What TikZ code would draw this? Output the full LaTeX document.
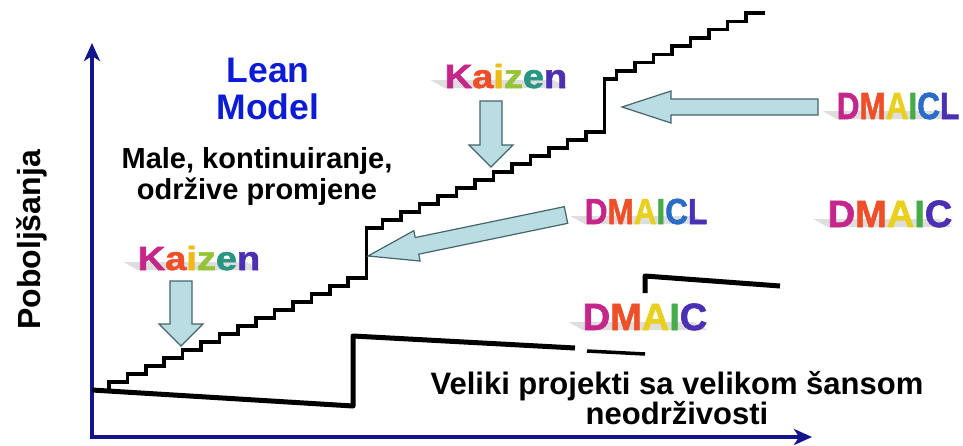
\documentclass[tikz,border=0pt]{standalone}
\usepackage{fontspec}
\setmainfont{Liberation Sans}
\newfontfamily\artfont{Liberation Sans}[BoldFeatures={FakeBold=1.6}]
\usetikzlibrary{arrows.meta,calc,backgrounds}
\definecolor{axisblue}{RGB}{20,20,140}
\definecolor{leanblue}{RGB}{12,28,214}
\definecolor{arrowfill}{RGB}{185,221,226}
\definecolor{arrowline}{RGB}{70,100,108}
\definecolor{rbA}{RGB}{196,38,138}
\definecolor{rbB}{RGB}{238,78,40}
\definecolor{rbC}{RGB}{240,186,20}
\definecolor{rbD}{RGB}{150,196,56}
\definecolor{rbE}{RGB}{40,150,130}
\definecolor{rbF}{RGB}{76,48,180}
\definecolor{rbG}{RGB}{234,208,30}
\definecolor{rbH}{RGB}{70,172,72}
\definecolor{rbI}{RGB}{42,108,200}
\newcommand\kaizen{{\color{rbA}K}{\color{rbB}a}{\color{rbC}i}{\color{rbD}z}{\color{rbE}e}{\color{rbF}n}}
\newcommand\dmaicl{{\color{rbA}D}{\color{rbB}M}{\color{rbG}A}{\color{rbH}I}{\color{rbI}C}{\color{rbF}L}}
\newcommand\dmaic{{\color{rbA}D}{\color{rbB}M}{\color{rbG}A}{\color{rbH}I}{\color{rbF}C}}
% block arrow: shaft half width, head half width, head length, from, to
\newcommand\fatarrow[5]{%
  \coordinate (fa-h) at ($(#5)!#3pt!(#4)$);
  \draw[fatarrow] ($(#4)!#1pt!90:(#5)$) -- ($(fa-h)!#1pt!90:(#5)$) -- ($(fa-h)!#2pt!90:(#5)$) -- (#5)
    -- ($(fa-h)!#2pt!-90:(#5)$) -- ($(fa-h)!#1pt!-90:(#5)$) -- ($(#4)!#1pt!-90:(#5)$) -- cycle;}
% grey ground shadow behind a word
\newcommand\artshadow[1]{%
  \fill[artshadow] (#1.base west) -- (#1.base east) -- ++(-14,-8)
    -- ($(#1.base west)+(-14,-8)$) -- cycle;}
\tikzset{
  axis/.style={axisblue,line width=4.5pt,line join=miter,{Stealth[length=18pt,width=16pt,inset=5pt]}-{Stealth[length=18pt,width=16pt,inset=5pt]}},
  stair/.style={line width=3.5pt,line join=miter},
  bigline/.style={line width=5pt,line join=round},
  fatarrow/.style={fill=arrowfill,draw=arrowline,line width=1.2pt,line join=miter},
  artshadow/.style={fill=black!13},
  lean/.style={font=\fontsize{35.5}{37}\selectfont\bfseries,text=leanblue,align=center,inner sep=0pt},
  note/.style={font=\fontsize{29}{31}\selectfont\bfseries,align=center,inner sep=0pt},
  wordart/.style={font=\artfont\fontsize{38}{40}\selectfont\bfseries,inner sep=0pt,anchor=base},
  smallart/.style={wordart,font=\artfont\fontsize{31.5}{33}\selectfont\bfseries},
}
\begin{document}
\begin{tikzpicture}[x=1pt,y=-1pt]
\useasboundingbox (0,0) rectangle (963,445);
% axes
\coordinate (o) at (92,437);
\coordinate (ytip) at (92,43);
\coordinate (xtip) at (812,437);
\draw[axis] (ytip) -- (o) -- (xtip);
\node[font=\fontsize{32}{34}\selectfont\bfseries,rotate=90,inner sep=0pt] (ylab) at (32,240) {Poboljšanja};
% large projects
\draw[bigline] (92,390) -- (353,406) -- (353,336) -- (575,348);
\draw[stair] (587,351) -- (645,354);
\draw[bigline] (645,293) -- (645,276) -- (780,286);
% small steps
\draw[stair] (109,390)
  \foreach \s in {1,...,14}{ -- ++(0,-8) -- ++(18.4,0) }
  -- ++(0,-50) -- ++(16,0)
  \foreach \s in {1,...,12}{ -- ++(0,-8) -- ++(18.5,0) }
  -- ++(0,-53) -- ++(12,0)
  \foreach \s in {1,...,8}{ -- ++(0,-8.25) -- ++(18.5,0) };
% texts
\node[lean] (lean) at (268,89) {Lean\\Model};
\node[note] (male) at (257,176) {Male, kontinuiranje,\\održive promjene};
\node[note,font=\fontsize{31}{29}\selectfont\bfseries] (veliki) at (677,398) {Veliki projekti sa velikom šansom\\neodrživosti};
% wordart labels
\node[wordart,yscale=0.88] (kzTop) at (506,88) {\kaizen};
\node[wordart,yscale=0.88] (kzLow) at (199,270) {\kaizen};
\node[smallart,yscale=1.2] (dlTop) at (898,119) {\dmaicl};
\node[smallart,yscale=1.15] (dlMid) at (646,224) {\dmaicl};
\node[wordart] (dcRight) at (890,227) {\dmaic};
\node[wordart] (dcLow) at (645,330) {\dmaic};
\begin{scope}[on background layer]
  \foreach \w in {kzTop,kzLow,dlTop,dlMid,dcRight,dcLow}{\artshadow{\w}}
\end{scope}
% block arrows
\coordinate (kzTopA) at (491,101);
\coordinate (kzTopB) at (491,167);
\coordinate (kzLowA) at (181,281);
\coordinate (kzLowB) at (181,346);
\coordinate (dlTopA) at (818,107);
\coordinate (dlTopB) at (622,107);
\coordinate (dlMidA) at (566,215);
\coordinate (dlMidB) at (368,256);
\fatarrow{11}{22}{22}{kzTopA}{kzTopB}
\fatarrow{11}{22}{22}{kzLowA}{kzLowB}
\fatarrow{8}{16}{49}{dlTopA}{dlTopB}
\fatarrow{8.5}{15.5}{50}{dlMidA}{dlMidB}
\end{tikzpicture}
\end{document}
